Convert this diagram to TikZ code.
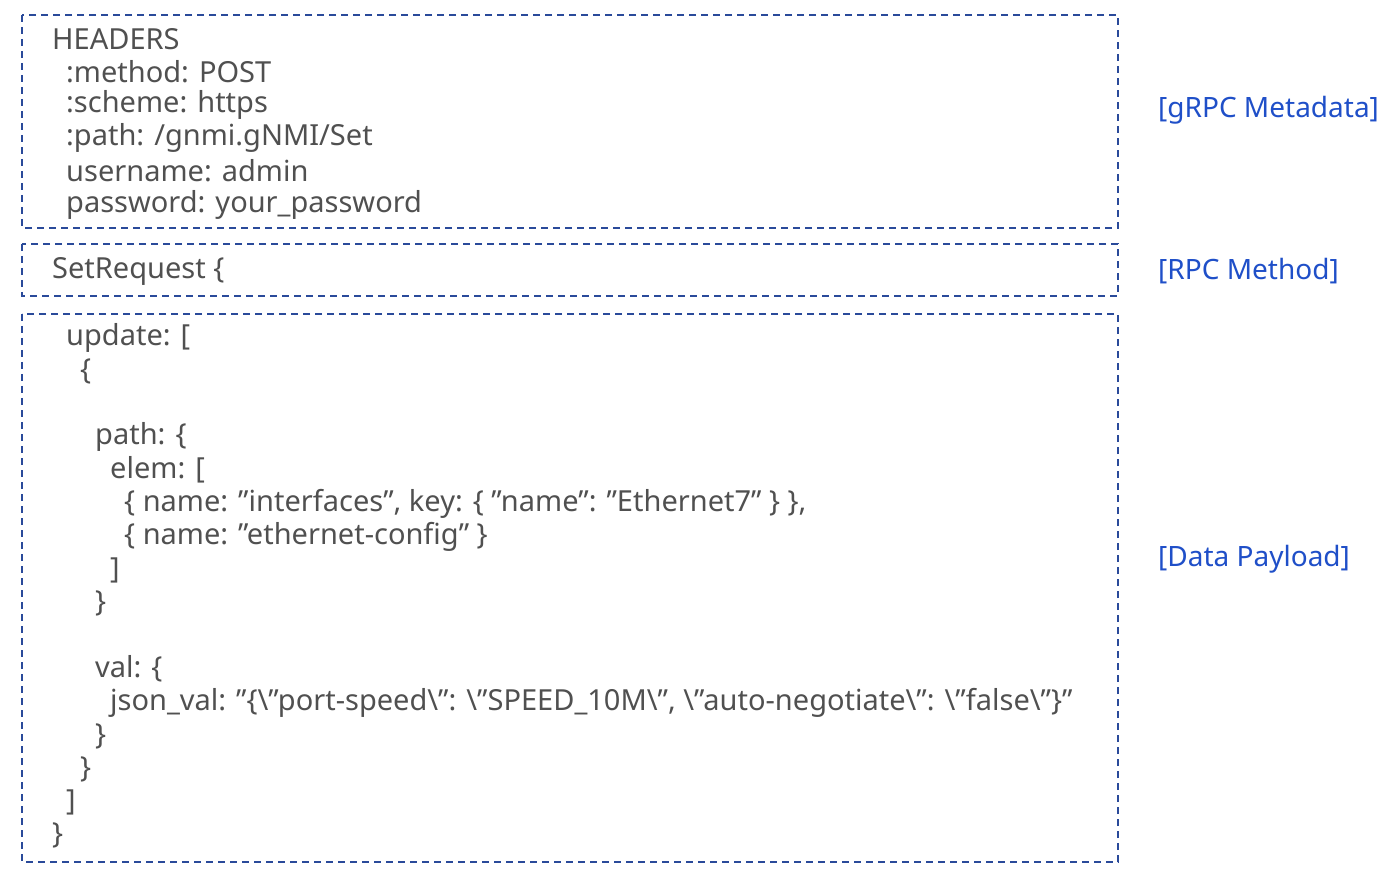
\documentclass[tikz,border=0pt]{standalone}
\usepackage{fontspec}
\defaultfontfeatures{}
\setmainfont{Noto Sans}
\definecolor{boxblue}{HTML}{2A4A9A}
\definecolor{labelblue}{HTML}{1F4FC8}
\definecolor{codegray}{HTML}{505050}
\tikzset{
  part/.style={draw=boxblue, line width=1.8pt, dash pattern=on 7pt off 5pt},
  code/.style={anchor=west, inner sep=0pt, text=codegray, font=\fontsize{29}{34}\selectfont},
  tag/.style={anchor=west, inner sep=0pt, text=labelblue, font=\fontsize{28}{34}\selectfont}
}
\newcommand{\bs}{\textbackslash}
\newcommand{\q}{\char34{}}
\begin{document}
\begin{tikzpicture}[x=1pt,y=-1pt]
  \useasboundingbox (0,0) rectangle (1400,874);
  % boxes
  \draw[part] (22,15) rectangle (1118,228);
  \draw[part] (22,244) rectangle (1118,296);
  \draw[part] (22,314) rectangle (1118,862);
  % metadata
  \node[code] (h1) at (52,39) {HEADERS};
  \node[code] (h2) at (66,72) {:method: POST};
  \node[code] (h3) at (66,105) {:scheme: https};
  \node[code] (h4) at (66,138) {:path: /gnmi.gNMI/Set};
  \node[code] (h5) at (66,171) {username: admin};
  \node[code] (h6) at (66,205) {password: your\_password};
  % method
  \node[code] (m1) at (52,271) {SetRequest \{};
  % payload
  \node[code] (p1) at (66,338) {update: [};
  \node[code] (p2) at (80,371) {\{};
  \node[code] (p3) at (95,437) {path: \{};
  \node[code] (p4) at (110,470) {elem: [};
  \node[code] (p5) at (124,504) {\{ name: \q interfaces\q, key: \{ \q name\q: \q Ethernet7\q\ \} \},};
  \node[code] (p6) at (124,537) {\{ name: \q ethernet-config\q\ \}};
  \node[code] (p7) at (110,570) {]};
  \node[code] (p8) at (95,603) {\}};
  \node[code] (p9) at (95,669) {val: \{};
  \node[code] (p10) at (110,703) {json\_val: \q\{\bs\q port-speed\bs\q: \bs\q SPEED\_10M\bs\q, \bs\q auto-negotiate\bs\q: \bs\q false\bs\q\}\q};
  \node[code] (p11) at (95,736) {\}};
  \node[code] (p12) at (80,769) {\}};
  \node[code] (p13) at (66,802) {]};
  \node[code] (p14) at (52,835) {\}};
  % side labels
  \node[tag] (t1) at (1158,110) {\textbf{[}gRPC Metadata\textbf{]}};
  \node[tag] (t2) at (1158,271) {\textbf{[}RPC Method\textbf{]}};
  \node[tag] (t3) at (1158,559) {\textbf{[}Data Payload\textbf{]}};
\end{tikzpicture}
\end{document}
